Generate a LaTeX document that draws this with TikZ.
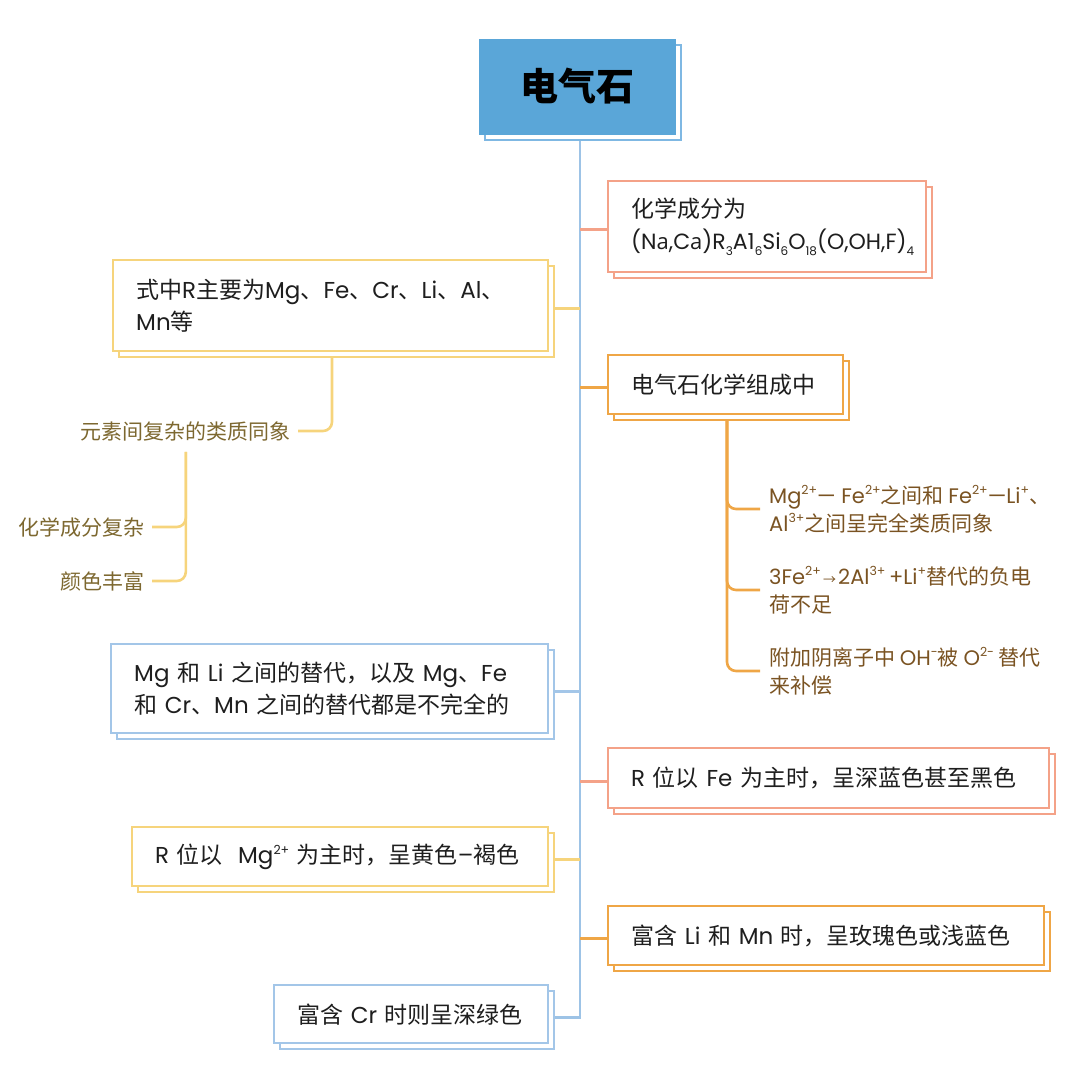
\documentclass[tikz,border=0pt]{standalone}
\usepackage{fontspec}
\setmainfont{Poppins}
\newfontfamily\cjk{Noto Sans CJK SC}
\newfontfamily\latf{Poppins}
\newfontfamily\alta{Open Sans}
\usetikzlibrary{backgrounds}
\definecolor{rootblue}{HTML}{5AA6D8}
\definecolor{rootsh}{HTML}{7FB8E3}
\definecolor{trunkc}{HTML}{9DC3E6}
\definecolor{cB}{HTML}{A3C6E8}
\definecolor{cS}{HTML}{F4A288}
\definecolor{cO}{HTML}{EFA646}
\definecolor{cY}{HTML}{F6D47C}
\definecolor{txt}{HTML}{1E1E1E}
\definecolor{brR}{HTML}{7A5322}
\definecolor{brL}{HTML}{7D6830}
\newcommand\lx[1]{{\latf #1}}
\newcommand\sbx[1]{\raisebox{-0.3em}{\fontsize{12}{12}\selectfont #1}}
\newcommand\spx[1]{\raisebox{0.4em}{\fontsize{12.5}{12}\selectfont #1}}
\newcommand\sarrow{{\cjk\fontsize{13}{13}\selectfont\,→\,}}
\tikzset{
  box/.style={draw=#1, line width=2.4pt, fill=white, anchor=north west,
    inner xsep=23pt, inner ysep=0pt, align=left, text=txt,
    font=\cjk\fontsize{23}{32}\selectfont,
    preaction={draw=#1, fill=white, line width=2.4pt,
      transform canvas={shift={(6pt,-6pt)}}}},
  rootbox/.style={draw=rootblue, fill=rootblue, line width=1pt,
    minimum width=196pt, minimum height=95pt, inner sep=0pt, text=black,
    font=\cjk\bfseries\fontsize{38}{38}\selectfont,
    preaction={draw=rootsh, fill=white, line width=2pt,
      transform canvas={shift={(6pt,-6pt)}}}},
  subR/.style={anchor=west, align=left, inner xsep=9pt, inner ysep=2pt,
    text=brR, font=\cjk\fontsize{21}{28}\selectfont},
  subL/.style={anchor=east, align=right, inner xsep=7pt, inner ysep=2pt,
    text=brL, font=\cjk\fontsize{21}{28}\selectfont},
  conn/.style={draw=#1, line width=2.6pt},
}
\begin{document}
\begin{tikzpicture}[x=1pt,y=-1pt]
\useasboundingbox (0,0) rectangle (1080,1077);
% root
\node[rootbox] (root) at (577,86.5) {电气石};
% right boxes
\node[box=cS, text width=272pt, minimum height=91pt] (b1) at (607,180)
  {化学成分为\\{\latf\fontsize{22}{32}\selectfont (N{\alta a},C{\alta a})R\sbx{3}A1\sbx{6}Si\sbx{6}O\sbx{18}(O,OH,F)\sbx{4}}};
\node[box=cO, text width=189pt, minimum height=59pt] (b2) at (607,354)
  {电气石化学组成中};
\node[box=cS, text width=395pt, minimum height=60pt] (b3) at (607,747)
  {\lx{R} 位以 \lx{Fe} 为主时，呈深蓝色甚至黑色};
\node[box=cO, text width=390pt, minimum height=59pt] (b4) at (607,905)
  {富含 \lx{Li} 和 \lx{Mn} 时，呈玫瑰色或浅蓝色};
% left boxes
\node[box=cY, text width=389pt, minimum height=91pt] (b5) at (112,259)
  {式中\lx{R}主要为\lx{Mg}、\lx{Fe}、\lx{Cr}、\lx{Li}、\lx{Al}、\\\lx{Mn}等};
\node[box=cB, text width=391pt, minimum height=89pt] (b6) at (110,643)
  {\lx{Mg} 和 \lx{Li} 之间的替代，以及 \lx{Mg}、\lx{Fe}\\和 \lx{Cr}、\lx{Mn} 之间的替代都是不完全的};
\node[box=cY, text width=370pt, minimum height=59pt] (b7) at (131,826)
  {\lx{R} 位以\ \ \lx{Mg\spx{2+}} 为主时，呈黄色\lx{–}褐色};
\node[box=cB, text width=228pt, minimum height=58pt] (b8) at (273,984)
  {富含 \lx{Cr} 时则呈深绿色};
% sub items right
\node[subR] (r1) at (760,509)
  {\lx{Mg\spx{2+}— Fe\spx{2+}}之间和 \lx{Fe\spx{2+}—Li\spx{+}}、\\\lx{Al\spx{3+}}之间呈完全类质同象};
\node[subR] (r2) at (760,590)
  {\lx{3Fe\spx{2+}}\sarrow\lx{2Al\spx{3+}\,+Li\spx{+}}替代的负电\\荷不足};
\node[subR] (r3) at (760,671)
  {附加阴离子中 \lx{OH\spx{-}}被 \lx{O\spx{2-}} 替代\\来补偿};
% sub items left
\node[subL] (la) at (298,431) {元素间复杂的类质同象};
\node[subL] (lb) at (152,527) {化学成分复杂};
\node[subL] (lc) at (152,581) {颜色丰富};
% connectors
\begin{scope}[on background layer]
\coordinate (tk) at (580,0);
\coordinate (sx) at (727,0);
\coordinate (lxx) at (332,0);
\coordinate (b8c) at ([yshift=-3pt]b8.east);
\draw[conn=trunkc] (root.south -| tk) -- (tk |- b8c) -- (b8c);
\coordinate (b1c) at ([yshift=-3pt]b1.west);
\coordinate (b2c) at ([yshift=-3pt]b2.west);
\coordinate (b3c) at ([yshift=-3pt]b3.west);
\coordinate (b4c) at ([yshift=-3pt]b4.west);
\coordinate (b5c) at ([yshift=-3pt]b5.east);
\coordinate (b6c) at ([yshift=-3pt]b6.east);
\coordinate (b7c) at ([yshift=-3pt]b7.east);
\draw[conn=cS] (tk |- b1c) -- (b1c);
\draw[conn=cO] (tk |- b2c) -- (b2c);
\draw[conn=cS] (tk |- b3c) -- (b3c);
\draw[conn=cO] (tk |- b4c) -- (b4c);
\draw[conn=cY] (tk |- b5c) -- (b5c);
\draw[conn=cB] (tk |- b6c) -- (b6c);
\draw[conn=cY] (tk |- b7c) -- (b7c);
% sub branches
\draw[conn=cO, rounded corners=9pt] (b2.south -| sx) |- (r1.west);
\draw[conn=cO, rounded corners=9pt] (b2.south -| sx) |- (r2.west);
\draw[conn=cO, rounded corners=9pt] (b2.south -| sx) |- (r3.west);
\draw[conn=cY, rounded corners=9pt] (b5.south -| lxx) |- (la.east);
\coordinate (lat) at ([yshift=-9pt]la.south);
\draw[conn=cY, rounded corners=9pt] (lat) |- (lb.east);
\draw[conn=cY, rounded corners=9pt] (lat) |- (lc.east);
\end{scope}
\end{tikzpicture}
\end{document}
